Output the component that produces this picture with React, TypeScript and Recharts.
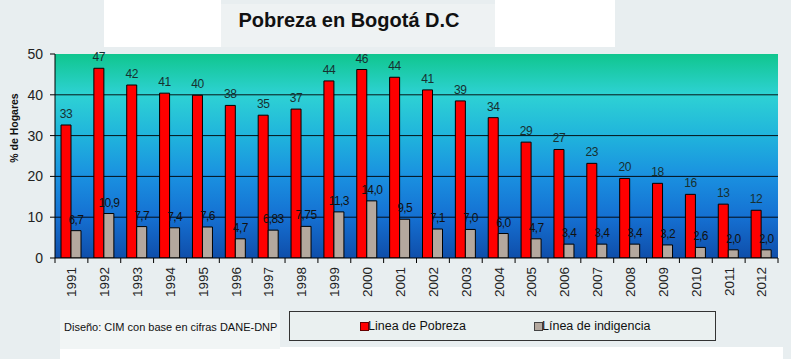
import React from "react";
import { BarChart, Bar, XAxis, YAxis, CartesianGrid, LabelList } from "recharts";

const years = ["1991","1992","1993","1994","1995","1996","1997","1998","1999","2000","2001","2002","2003","2004","2005","2006","2007","2008","2009","2010","2011","2012"];
const pobreza = [32.6, 46.5, 42.4, 40.4, 39.9, 37.4, 35.0, 36.5, 43.4, 46.2, 44.3, 41.2, 38.5, 34.4, 28.4, 26.6, 23.2, 19.5, 18.3, 15.6, 13.2, 11.7];
const pobrezaLabels = ["33","47","42","41","40","38","35","37","44","46","44","41","39","34","29","27","23","20","18","16","13","12"];
const indigencia = [6.7, 10.9, 7.7, 7.4, 7.6, 4.7, 6.83, 7.75, 11.3, 14.0, 9.5, 7.1, 7.0, 6.0, 4.7, 3.4, 3.4, 3.4, 3.2, 2.6, 2.0, 2.0];
const indigenciaLabels = ["6,7","10,9","7,7","7,4","7,6","4,7","6,83","7,75","11,3","14,0","9,5","7,1","7,0","6,0","4,7","3,4","3,4","3,4","3,2","2,6","2,0","2,0"];
const yTicks = [0, 10, 20, 30, 40, 50];
const gridValues = [10, 20, 30, 40];
const seriesNames = ["Linea de Pobreza", "Línea de indigencia"];

const data = years.map((y, i) => ({
  year: y,
  pobreza: pobreza[i],
  pobrezaLabel: pobrezaLabels[i],
  indigencia: indigencia[i],
  indigenciaLabel: indigenciaLabels[i],
}));

const W = 791;
const H = 359;
const M = { top: 54, right: 13, left: 10, bottom: 61 };
const Y_AXIS_W = 45;
const PLOT_W = W - M.left - M.right - Y_AXIS_W;
const HALF_BAND = PLOT_W / years.length / 2;

const FONT = "Arial, 'Liberation Sans', sans-serif";
const RED = "#ff0000";
const GRAY = "#b4a89e";

const XTick = (props: any) => {
  const { x, y, payload, index } = props;
  const last = index === years.length - 1;
  return (
    <g>
      <line x1={x - HALF_BAND} x2={x - HALF_BAND} y1={y} y2={y + 5} stroke="#000" />
      {last && <line x1={x + HALF_BAND} x2={x + HALF_BAND} y1={y} y2={y + 5} stroke="#000" />}
      <text
        x={0}
        y={0}
        transform={`translate(${x},${y + 9}) rotate(-90)`}
        textAnchor="end"
        dy="0.36em"
        fontSize={13.5}
        fontFamily={FONT}
        fill="#222"
      >
        {payload.value}
      </text>
    </g>
  );
};

const LegendBox = () => (
  <div
    style={{
      position: "absolute",
      left: 289,
      top: 311,
      width: 427,
      height: 30,
      boxSizing: "border-box",
      border: "1px solid #333",
      background: "#eaf0f0",
      fontFamily: FONT,
      fontSize: 12.5,
      color: "#111",
    }}
  >
    <div style={{ position: "absolute", left: 70, top: 10, width: 7, height: 7, background: RED, border: "1px solid #600" }} />
    <div style={{ position: "absolute", left: 78, top: 6, lineHeight: "16px" }}>{seriesNames[0]}</div>
    <div style={{ position: "absolute", left: 244, top: 10, width: 7, height: 7, background: GRAY, border: "1px solid #444" }} />
    <div style={{ position: "absolute", left: 252, top: 6, lineHeight: "16px" }}>{seriesNames[1]}</div>
  </div>
);

export default function App() {
  return (
    <div style={{ position: "absolute", left: 0, top: 0, width: W, height: H, background: "#e8eef0", overflow: "hidden", fontFamily: FONT }}>
      <div style={{ position: "absolute", left: 104, top: 0, width: 117, height: 47, background: "#ffffff" }} />
      <div style={{ position: "absolute", left: 221, top: 4, width: 274, height: 43, background: "#eef2f3" }} />
      <div style={{ position: "absolute", left: 495, top: 0, width: 120, height: 47, background: "#ffffff" }} />
      <div style={{ position: "absolute", left: 60, top: 347, width: 723, height: 12, background: "#ffffff" }} />
      <div style={{ position: "absolute", left: 60, top: 310, width: 220, height: 39, background: "#f1f5f5" }} />
      <div style={{ position: "absolute", left: 221, top: 8, width: 256, textAlign: "center", fontSize: 20, fontWeight: "bold", color: "#111", lineHeight: "24px" }}>
        Pobreza en Bogotá D.C
      </div>
      <div style={{ position: "absolute", left: 64, top: 320, fontSize: 11, color: "#111", lineHeight: "14px", whiteSpace: "nowrap" }}>
        Diseño: CIM con base en cifras DANE-DNP
      </div>
      <div
        style={{
          position: "absolute",
          left: 14,
          top: 128,
          transform: "translate(-50%,-50%) rotate(-90deg)",
          fontSize: 10.5,
          fontWeight: "bold",
          color: "#111",
          whiteSpace: "nowrap",
        }}
      >
        % de Hogares
      </div>
      <LegendBox />
      <svg width={0} height={0} style={{ position: "absolute" }}>
        <defs>
          <linearGradient id="plotBg" x1="0" y1="0" x2="0" y2="1">
            <stop offset="0%" stopColor="#10c68e" />
            <stop offset="20%" stopColor="#2ed2d4" />
            <stop offset="40%" stopColor="#20b4dc" />
            <stop offset="60%" stopColor="#1a90e0" />
            <stop offset="80%" stopColor="#1570d2" />
            <stop offset="100%" stopColor="#0f4eaa" />
          </linearGradient>
        </defs>
      </svg>
      <div style={{ position: "absolute", left: 0, top: 0 }}>
        <BarChart width={W} height={H} data={data} margin={M} barGap={0} barSize={10}>
          <CartesianGrid
            vertical={false}
            horizontalValues={gridValues}
            stroke="#000"
            strokeOpacity={0.9}
            fill="url(#plotBg)"
            fillOpacity={1}
          />
          <XAxis
            dataKey="year"
            axisLine={{ stroke: "#000" }}
            tickLine={false}
            tickSize={0}
            tickMargin={0}
            height={40}
            interval={0}
            tick={<XTick />}
          />
          <YAxis
            domain={[0, 50]}
            ticks={yTicks}
            width={Y_AXIS_W}
            axisLine={{ stroke: "#000" }}
            tickLine={{ stroke: "#000" }}
            tickSize={5}
            tickMargin={7}
            tick={{ fontSize: 14, fill: "#222", fontFamily: FONT }}
            allowDataOverflow
          />
          <Bar dataKey="pobreza" name={seriesNames[0]} fill={RED} stroke="#000" strokeWidth={1} isAnimationActive={false}>
            <LabelList dataKey="pobrezaLabel" position="top" offset={7} fontSize={12} letterSpacing={-0.4} fill="#173030" fontFamily={FONT} />
          </Bar>
          <Bar dataKey="indigencia" name={seriesNames[1]} fill={GRAY} stroke="#000" strokeWidth={1} isAnimationActive={false}>
            <LabelList dataKey="indigenciaLabel" position="top" offset={7} fontSize={12} letterSpacing={-0.6} fill="#111" fontFamily={FONT} />
          </Bar>
        </BarChart>
      </div>
    </div>
  );
}
